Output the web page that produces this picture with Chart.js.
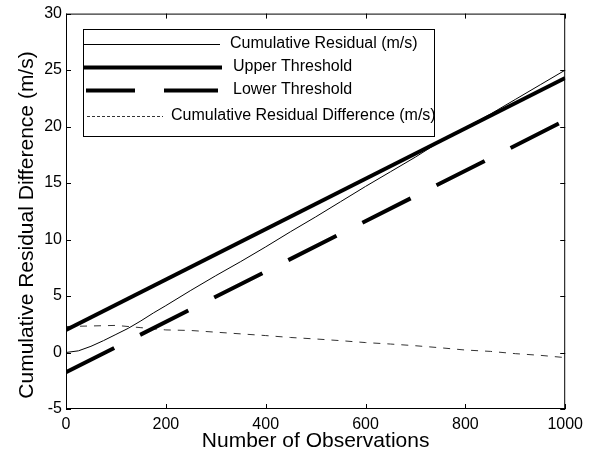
<!DOCTYPE html>
<html lang="en">
<head>
  <meta charset="UTF-8">
  <title>Cumulative Residual Difference</title>
  <script src="https://cdn.jsdelivr.net/npm/chart.js"></script>
  <style>
    * { margin: 0; padding: 0; box-sizing: border-box; }
    body { background: #fff; }
    .wrap { width: 589px; height: 454px; position: relative; }
  </style>
</head>
<body>
  <div class="wrap"><canvas id="chart"></canvas></div>

  <script>
    // data
    const residualX = [0, 25, 50, 75, 100, 125, 150, 175, 200, 250, 300, 350, 400, 450, 500, 550, 600, 650, 700, 750, 800, 850, 900, 950, 1000];
    const residualY = [0, 0.15, 0.55, 1.05, 1.6, 2.15, 2.8, 3.5, 4.15, 5.5, 6.8, 8.05, 9.35, 10.7, 12.0, 13.35, 14.7, 16.0, 17.3, 18.7, 19.9, 21.1, 22.4, 23.7, 25.0];
    const thresholdX = [0, 1000];
    const upperY = [2.0, 24.3];
    const lowerY = [-1.75, 20.55];
    const diffX = [0, 50, 100, 150, 200, 250, 300, 350, 400, 450, 500, 550, 600, 650, 700, 750, 800, 850, 900, 950, 1000];
    const diffY = [2.3, 2.35, 2.4, 2.2, 2.0, 1.95, 1.8, 1.65, 1.5, 1.33, 1.2, 1.05, 0.88, 0.75, 0.6, 0.42, 0.22, 0.1, -0.1, -0.25, -0.45];
    const xTicks = [0, 200, 400, 600, 800, 1000];
    const yTicks = [-5, 0, 5, 10, 15, 20, 25, 30];
    const yTitle = "Cumulative Residual Difference (m/s)";

    const FONT = "'Liberation Sans', Arial, sans-serif";
    const pts = (xs, ys) => xs.map((x, i) => ({ x: x, y: ys[i] }));

    // matlab style box + inward ticks, and the y title
    const boxPlugin = {
      id: "box",
      afterDatasetsDraw(chart) {
        const { ctx, chartArea: a, scales } = chart;
        ctx.save();
        ctx.strokeStyle = "#000";
        ctx.lineWidth = 1;
        ctx.strokeRect(a.left + 0.5, a.top + 0.5, a.right - a.left - 1, a.bottom - a.top - 1);
        ctx.beginPath();
        xTicks.forEach(v => {
          const px = Math.round(scales.x.getPixelForValue(v)) + 0.5;
          ctx.moveTo(px, a.bottom); ctx.lineTo(px, a.bottom - 5);
          ctx.moveTo(px, a.top); ctx.lineTo(px, a.top + 5);
        });
        yTicks.forEach(v => {
          const py = Math.round(scales.y.getPixelForValue(v)) + 0.5;
          ctx.moveTo(a.left, py); ctx.lineTo(a.left + 5, py);
          ctx.moveTo(a.right, py); ctx.lineTo(a.right - 5, py);
        });
        ctx.stroke();

        ctx.translate(33, 225);
        ctx.rotate(-Math.PI / 2);
        ctx.fillStyle = "#000";
        ctx.font = "21px " + FONT;
        ctx.textAlign = "center";
        ctx.textBaseline = "alphabetic";
        ctx.fillText(yTitle, 0, 0);
        ctx.restore();
      }
    };

    // legend box in the top left, like the original
    const legendPlugin = {
      id: "boxLegend",
      afterDraw(chart) {
        const ctx = chart.ctx;
        const ds = chart.data.datasets;
        const rows = [
          { y: 44, x0: 83, x1: 220, tx: 230, dash: [] },
          { y: 67, x0: 83, x1: 222, tx: 233, dash: [] },
          { y: 90, x0: 86, x1: 218, tx: 233, dash: [49, 29, 60, 10] },
          { y: 116, x0: 87, x1: 163, tx: 171, dash: [3, 2] }
        ];
        ctx.save();
        ctx.fillStyle = "#fff";
        ctx.fillRect(83, 29, 351, 107);
        ctx.strokeStyle = "#000";
        ctx.lineWidth = 1;
        ctx.strokeRect(83.5, 29.5, 351, 107);
        rows.forEach((r, i) => {
          const d = ds[i];
          ctx.beginPath();
          ctx.strokeStyle = d.borderColor;
          ctx.lineWidth = d.borderWidth;
          ctx.lineCap = "butt";
          ctx.setLineDash(r.dash);
          ctx.moveTo(r.x0, r.y + 0.5);
          ctx.lineTo(r.x1, r.y + 0.5);
          ctx.stroke();
          ctx.setLineDash([]);
          ctx.fillStyle = "#000";
          ctx.font = "16px " + FONT;
          ctx.textBaseline = "middle";
          ctx.fillText(d.label, r.tx, r.y);
        });
        ctx.restore();
      }
    };

    new Chart(document.getElementById("chart"), {
      type: "line",
      data: {
        datasets: [
          {
            label: "Cumulative Residual (m/s)",
            data: pts(residualX, residualY),
            borderColor: "#000",
            borderWidth: 1
          },
          {
            label: "Upper Threshold",
            data: pts(thresholdX, upperY),
            borderColor: "#000",
            borderWidth: 4
          },
          {
            label: "Lower Threshold",
            data: pts(thresholdX, lowerY),
            borderColor: "#000",
            borderWidth: 4,
            borderDash: [54, 29]
          },
          {
            label: "Cumulative Residual Difference (m/s)",
            data: pts(diffX, diffY),
            borderColor: "#333",
            borderWidth: 1,
            borderDash: [7, 7]
          }
        ]
      },
      options: {
        responsive: true,
        maintainAspectRatio: false,
        animation: false,
        elements: { point: { radius: 0 }, line: { tension: 0, borderCapStyle: "butt" } },
        layout: { padding: { top: 13, right: 20, left: 0, bottom: 0 } },
        plugins: { legend: { display: false }, tooltip: { enabled: false } },
        scales: {
          x: {
            type: "linear",
            min: 0,
            max: 1000,
            afterFit: s => { s.height = 45; },
            afterBuildTicks: s => { s.ticks = xTicks.map(v => ({ value: v })); },
            grid: { display: false, drawTicks: false },
            border: { display: false },
            ticks: { color: "#000", padding: 6, maxRotation: 0, callback: v => String(v), font: { family: FONT, size: 16 } },
            title: { display: true, text: "Number of Observations", color: "#000", padding: 0, font: { family: FONT, size: 21 } }
          },
          y: {
            min: -5,
            max: 30,
            afterFit: s => { s.width = 66; },
            afterBuildTicks: s => { s.ticks = yTicks.map(v => ({ value: v })); },
            grid: { display: false, drawTicks: false },
            border: { display: false },
            ticks: { color: "#000", padding: 4, callback: v => String(v), font: { family: FONT, size: 16 } },
            title: { display: false }
          }
        }
      },
      plugins: [boxPlugin, legendPlugin]
    });
  </script>
</body>
</html>
